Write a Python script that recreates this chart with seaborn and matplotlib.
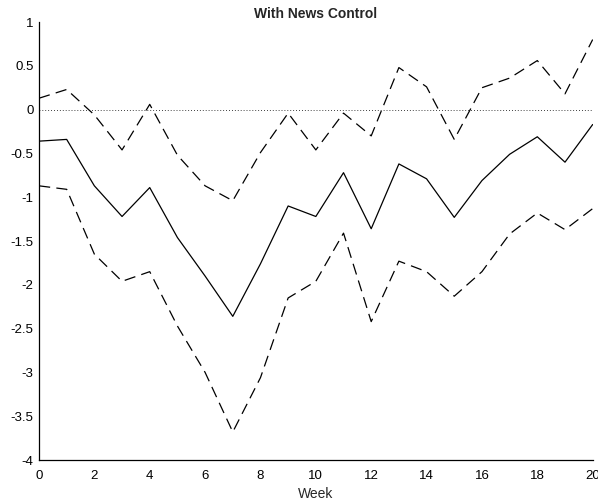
import matplotlib
matplotlib.use("Agg")
import matplotlib.pyplot as plt
import seaborn as sns
import pandas as pd
import numpy as np

weeks = list(range(0, 21))
estimate = [-0.36, -0.34, -0.87, -1.22, -0.89, -1.46, -1.90, -2.36, -1.76, -1.10, -1.22,
            -0.72, -1.36, -0.62, -0.79, -1.23, -0.81, -0.51, -0.31, -0.60, -0.17]
upper = [0.13, 0.23, -0.06, -0.46, 0.06, -0.52, -0.87, -1.04, -0.49, -0.04, -0.46,
         -0.04, -0.30, 0.48, 0.26, -0.34, 0.25, 0.36, 0.56, 0.18, 0.80]
lower = [-0.87, -0.91, -1.65, -1.96, -1.85, -2.47, -3.00, -3.68, -3.06, -2.15, -1.96,
         -1.41, -2.42, -1.73, -1.85, -2.13, -1.85, -1.42, -1.18, -1.37, -1.13]

title = "With News Control"
xlabel = "Week"
xticks = [0, 2, 4, 6, 8, 10, 12, 14, 16, 18, 20]
yticks = [-4, -3.5, -3, -2.5, -2, -1.5, -1, -0.5, 0, 0.5, 1]
ytick_labels = ["-4", "-3.5", "-3", "-2.5", "-2", "-1.5", "-1", "-0.5", "0", "0.5", "1"]

sns.set_style("white")
plt.rcParams['font.family'] = ['Liberation Sans', 'DejaVu Sans']

df = pd.DataFrame({"week": weeks, "estimate": estimate, "upper": upper, "lower": lower})

fig = plt.figure(figsize=(5.98, 5.04), dpi=100)
ax = fig.add_axes([0.0652, 0.0873, 0.9259, 0.8690])

ax.axhline(0, color="black", lw=0.6, linestyle=(0, (1, 2.5)), zorder=1)
sns.lineplot(data=df, x="week", y="estimate", ax=ax, color="black", lw=0.9)
sns.lineplot(data=df, x="week", y="upper", ax=ax, color="black", lw=0.9, dashes=False)
sns.lineplot(data=df, x="week", y="lower", ax=ax, color="black", lw=0.9, dashes=False)
ax.lines[-1].set_dashes((9, 5))
ax.lines[-2].set_dashes((9, 5))

ax.set_xlim(0, 20)
ax.set_ylim(-4, 1)
ax.set_xticks(xticks)
ax.set_xticklabels([str(t) for t in xticks])
ax.set_yticks(yticks)
ax.set_yticklabels(ytick_labels)
ax.tick_params(direction="in", length=4, width=0.8, labelsize=9.5, colors="black")
ax.tick_params(axis="x", pad=7)
ax.tick_params(axis="y", pad=4)
for s in ["top", "right"]:
    ax.spines[s].set_visible(False)
for s in ["left", "bottom"]:
    ax.spines[s].set_color("black")
    ax.spines[s].set_linewidth(0.9)
ax.set_xlabel(xlabel, fontsize=10, labelpad=4)
ax.set_ylabel("")
ax.set_title(title, fontsize=10, fontweight="bold", pad=3)

fig.savefig("out.png", dpi=100)
